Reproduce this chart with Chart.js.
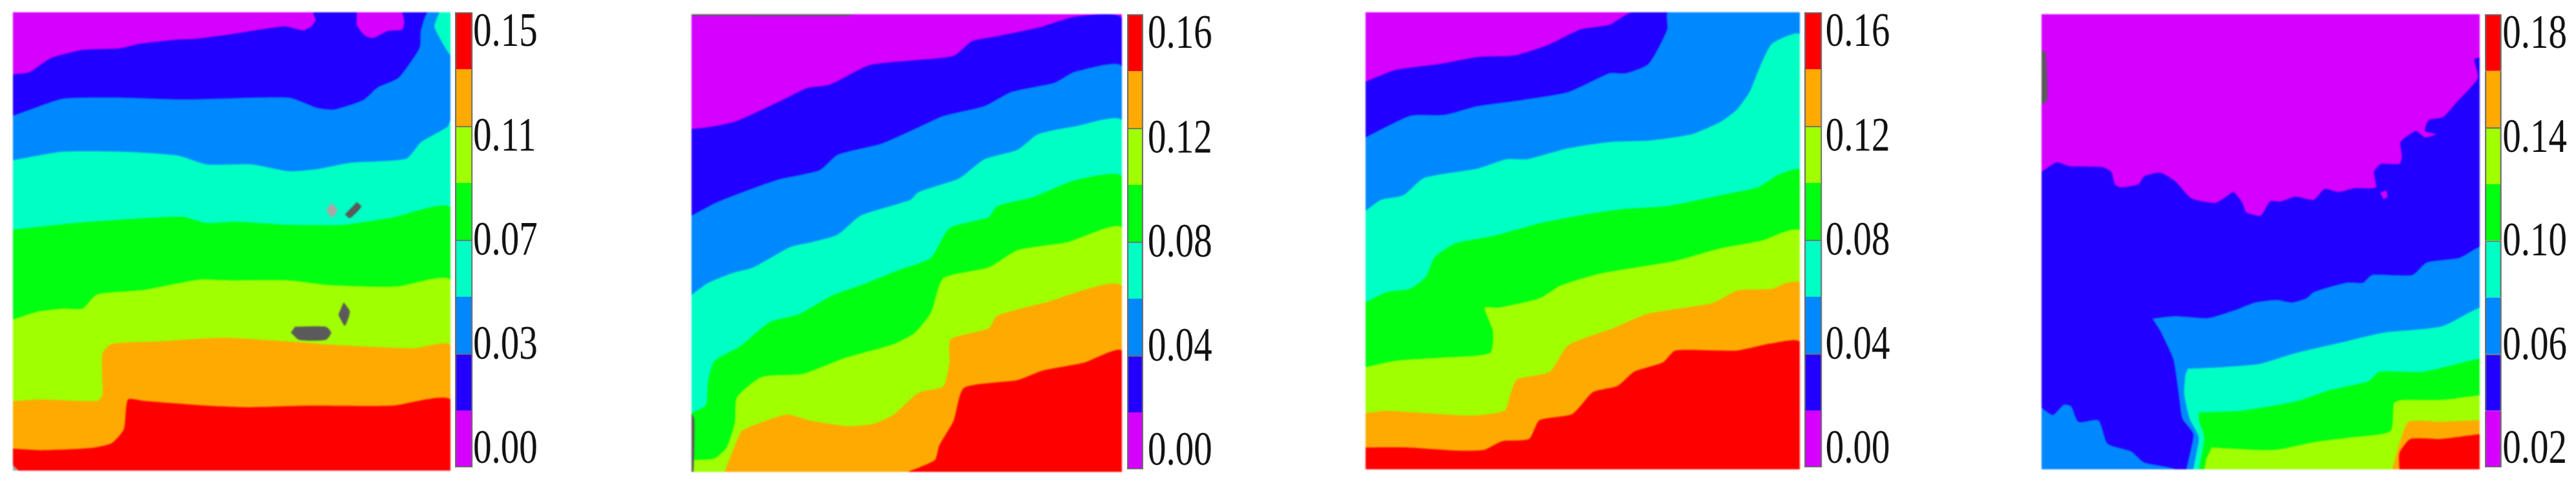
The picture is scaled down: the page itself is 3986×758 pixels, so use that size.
<!DOCTYPE html>
<html>
<head>
<meta charset="utf-8">
<script src="https://cdn.jsdelivr.net/npm/chart.js@4"></script>
<style>
html, body { margin: 0; padding: 0; background: #fff; width: 3986px; height: 758px; overflow: hidden; }
canvas { position: absolute; display: block; }
.map { filter: blur(1px); }
.bar { transform-origin: 0 0; filter: blur(0.6px); }
</style>
</head>
<body>
<script>
const bandColors = ['#D500FF', '#2200FF', '#0088FF', '#00FFC4', '#00FF11', '#A0FF00', '#FFAA00', '#FF0000']
const grayDark = '#5a5a5a'
const grayLight = '#a8a8a8'

// colorbar tick labels, bottom to top
const ticks1 = ['0.00', '0.03', '0.07', '0.11', '0.15']
const ticks2 = ['0.00', '0.04', '0.08', '0.12', '0.16']
const ticks3 = ['0.00', '0.04', '0.08', '0.12', '0.16']
const ticks4 = ['0.02', '0.06', '0.10', '0.14', '0.18']
// where the labels sit along the bar, in bands from the bottom
const tickBands = [0.3, 2.13, 3.96, 5.79, 7.63]

// contour lines, [x, y] on each panel's own sample grid
const p1Contours = [
  [[31,238],[70,232],[95,210],[125,185],[200,160],[290,155],[340,140],[430,127],[470,125],[560,110],[690,85],[735,98],[755,85],[765,65],[760,40],[1092,40]],
  [[31,370],[90,342],[155,315],[290,312],[450,318],[700,312],[770,345],[810,350],[880,320],[915,280],[965,250],[1000,190],[1018,150],[1020,100],[1037,40],[1092,40]],
  [[31,512],[150,485],[300,485],[430,497],[500,525],[610,525],[700,547],[770,540],[850,520],[985,507],[1020,455],[1085,405],[1092,385]],
  [[31,733],[200,710],[440,692],[500,712],[570,708],[700,718],[830,718],[950,695],[1092,665]],
  [[31,1020],[90,995],[155,985],[200,985],[235,940],[350,925],[480,893],[560,895],[700,895],[800,910],[960,915],[1092,895]],
  [[31,1280],[100,1275],[235,1280],[248,1260],[248,1130],[270,1098],[380,1090],[540,1078],[700,1090],[800,1100],[1000,1112],[1092,1102]],
  [[31,1432],[100,1437],[220,1430],[270,1415],[300,1370],[310,1275],[350,1280],[500,1295],[600,1300],[750,1295],[950,1295],[1092,1275]]
]
const p1PurpleIsland = [[865,40],[865,80],[885,115],[905,122],[940,100],[975,95],[980,70],[975,40]]
const p1CyanIsland = [[1065,40],[1053,85],[1065,120],[1092,175],[1092,40]]
const p1Specks = [
  [grayLight, [[803,648],[818,670],[806,695],[790,672]]],
  [grayDark, [[865,645],[876,660],[848,697],[836,685]]],
  [grayDark, [[833,965],[848,995],[836,1040],[820,1005]]],
  [grayDark, [[715,1043],[790,1043],[803,1062],[790,1085],[725,1085],[705,1062]]],
  [grayLight, [[31,1485],[44,1502],[31,1502]]]
]

const p2Contours = [
  [[110,413],[150,408],[220,388],[340,315],[390,283],[445,272],[540,210],[640,195],[745,180],[790,133],[860,115],[950,90],[1040,55],[1153,62]],
  [[110,690],[170,648],[240,612],[320,575],[420,545],[465,495],[570,460],[640,420],[720,372],[820,340],[885,295],[990,265],[1040,230],[1153,215]],
  [[110,943],[150,905],[210,873],[260,855],[350,790],[400,775],[465,750],[520,690],[640,640],[660,615],[760,570],[820,510],[900,480],[950,430],[1040,405],[1153,388]],
  [[110,1320],[145,1295],[150,1220],[165,1155],[230,1105],[300,1030],[370,1005],[450,945],[520,912],[620,860],[690,825],[735,730],[830,695],[850,660],[940,630],[1040,577],[1153,567]],
  [[110,1470],[165,1465],[195,1430],[215,1350],[220,1270],[280,1205],[380,1195],[480,1145],[600,1100],[650,1065],[690,1000],[720,890],[830,855],[900,800],[1020,775],[1153,730]],
  [[190,1508],[230,1380],[250,1365],[340,1325],[400,1345],[490,1362],[550,1355],[600,1325],[660,1255],[720,1235],[735,1160],[738,1085],[830,1050],[850,1010],[960,970],[1153,915]],
  [[635,1508],[700,1470],[710,1425],[745,1345],[770,1240],[900,1215],[960,1185],[1060,1160],[1153,1122]]
]
const p2Edges = [
  [grayDark, [[110,47],[500,47],[495,52],[110,52]]],
  [grayDark, [[110,1320],[117,1340],[115,1508],[110,1508]]]
]

const p3Contours = [
  [[98,262],[170,225],[280,205],[370,183],[460,178],[540,145],[620,95],[690,80],[745,40],[1152,40]],
  [[98,440],[150,405],[210,370],[290,368],[370,340],[480,320],[590,295],[690,235],[730,235],[785,205],[830,95],[832,40],[1152,40]],
  [[98,675],[135,640],[190,625],[240,570],[370,540],[440,510],[490,510],[590,475],[690,455],[790,450],[890,430],[960,390],[1000,350],[1030,295],[1055,215],[1085,140],[1152,112]],
  [[98,968],[150,935],[205,925],[245,885],[265,825],[315,780],[410,755],[520,715],[640,685],[720,670],[830,660],[980,620],[1050,600],[1100,560],[1152,545]],
  [[98,1175],[170,1155],[280,1145],[400,1130],[407,1060],[387,985],[420,985],[520,955],[570,915],[670,875],[850,835],[960,795],[1060,770],[1120,740],[1152,738]],
  [[98,1322],[150,1315],[350,1330],[435,1315],[450,1260],[465,1215],[545,1190],[590,1105],[700,1050],[780,1005],[940,970],[1000,930],[1085,925],[1120,905],[1152,905]],
  [[98,1432],[200,1432],[320,1442],[385,1440],[430,1412],[495,1405],[520,1345],[600,1325],[650,1255],[710,1235],[750,1190],[820,1160],[850,1122],[1000,1122],[1080,1100],[1152,1095]]
]

// panel 4 is not banded edge to edge, so these are closed outlines
const p4Indigo = [[104,550],[145,520],[180,532],[270,535],[295,550],[305,590],[320,600],[370,590],[385,565],[430,553],[470,580],[515,635],[580,650],[610,630],[630,615],[655,650],[665,680],[705,690],[730,645],[760,645],[800,630],[850,640],[880,605],[920,615],[960,603],[1020,600],[1015,550],[1035,525],[1085,525],[1092,500],[1088,455],[1130,420],[1155,440],[1185,430],[1155,420],[1165,385],[1205,375],[1240,330],[1300,250],[1290,190],[1305,185],[1360,185],[1360,1560],[50,1560],[50,550]]
const p4PurpleIsland = [[1032,618],[1048,610],[1052,630],[1042,638]]
const p4BlueRight = [[408,1020],[470,1012],[560,1018],[640,990],[690,968],[750,960],[790,968],[830,955],[850,935],[940,905],[985,905],[1010,880],[1120,880],[1160,840],[1250,825],[1305,790],[1360,790],[1360,1560],[505,1560],[520,1390],[490,1340],[480,1260],[465,1150],[430,1060]]
const p4BlueLeft = [[104,1305],[135,1328],[165,1295],[185,1300],[205,1350],[260,1345],[285,1420],[350,1445],[385,1480],[470,1502],[520,1560],[50,1560],[50,1305]]
const p4Cyan = [[505,1180],[600,1175],[700,1165],[800,1130],[930,1095],[1040,1065],[1200,1045],[1305,985],[1360,985],[1360,1560],[525,1560],[535,1400],[510,1340],[495,1260],[498,1200]]
const p4Green = [[535,1320],[650,1315],[800,1285],[890,1250],[1000,1220],[1030,1190],[1150,1190],[1305,1148],[1360,1148],[1360,1560],[542,1560],[550,1400],[535,1345]]
const p4YellowGreen = [[570,1432],[740,1440],[850,1415],[950,1400],[1060,1380],[1070,1290],[1090,1280],[1200,1280],[1305,1265],[1360,1265],[1360,1560],[550,1560],[555,1470]]
const p4Orange = [[1065,1502],[1085,1420],[1110,1350],[1200,1350],[1305,1345],[1360,1345],[1360,1560],[1060,1560]]
const p4Red = [[1085,1502],[1085,1450],[1115,1405],[1200,1405],[1305,1390],[1360,1390],[1360,1560],[1085,1560]]
const p4Strip = [[104,160],[115,170],[120,320],[104,335]]

function bandsToLayers(contours, xr, yr) {
  // painter's order: each contour fills everything below it, corners pushed off the plot
  const m = 60
  let layers = [[bandColors[0], [[xr[0]-m,yr[0]-m],[xr[1]+m,yr[0]-m],[xr[1]+m,yr[1]+m],[xr[0]-m,yr[1]+m]]]]
  contours.forEach((line, i) => {
    layers.push([bandColors[i+1], line.concat([[xr[1]+m,yr[1]+m],[xr[0]-m,yr[1]+m]])])
  })
  return layers
}

function drawMap(pos, xr, yr, layers) {
  let canvas = document.createElement('canvas')
  canvas.className = 'map'
  canvas.style.left = pos.left + 'px'
  canvas.style.top = pos.top + 'px'
  document.body.appendChild(canvas)
  canvas.width = pos.width
  canvas.height = pos.height
  canvas.style.width = pos.width + 'px'
  canvas.style.height = pos.height + 'px'
  // first dataset is painted last, so hand them over reversed
  let datasets = layers.slice().reverse().map(([color, pts]) => ({
    data: pts.map(p => ({ x: p[0], y: p[1] })),
    showLine: true,
    tension: 0.2,
    capBezierPoints: false,
    pointRadius: 0,
    borderWidth: 0,
    backgroundColor: color,
    fill: 'shape'
  }))
  new Chart(canvas, {
    type: 'scatter',
    data: { datasets },
    options: {
      responsive: false,
      animation: false,
      layout: { padding: 0 },
      plugins: { legend: { display: false }, tooltip: { enabled: false } },
      scales: {
        x: { type: 'linear', display: false, min: xr[0], max: xr[1] },
        y: { type: 'linear', display: false, reverse: true, min: yr[0], max: yr[1] }
      }
    }
  })
}

function drawBar(pos, tickLabels) {
  const squeeze = 0.78 // the labels in the picture are narrower than they are tall
  const barWidth = pos.barWidth / squeeze
  const axisWidth = 150
  let canvas = document.createElement('canvas')
  canvas.className = 'bar'
  canvas.style.left = pos.left + 'px'
  canvas.style.top = '0px'
  canvas.style.transform = 'scaleX(' + squeeze + ')'
  document.body.appendChild(canvas)
  const w = Math.round(barWidth + axisWidth)
  canvas.width = w
  canvas.height = 758
  canvas.style.width = w + 'px'
  canvas.style.height = '758px'
  let datasets = bandColors.map((color, i) => ({
    data: [1],
    backgroundColor: color,
    borderColor: '#6e6e6e',
    borderWidth: { left: 3, right: 3, top: i % 2 === 1 ? 2 : 0, bottom: i === 0 ? 2 : 0 },
    borderSkipped: false,
    barPercentage: 1,
    categoryPercentage: 1
  }))
  new Chart(canvas, {
    type: 'bar',
    data: { labels: [''], datasets },
    options: {
      responsive: false,
      animation: false,
      layout: { padding: { top: pos.top, bottom: 758 - pos.top - pos.height, left: 0, right: 0 } },
      plugins: { legend: { display: false }, tooltip: { enabled: false } },
      scales: {
        x: { stacked: true, display: false },
        y: {
          stacked: true,
          position: 'right',
          min: 0,
          max: 8,
          grid: { display: false, drawTicks: false },
          border: { display: false },
          afterBuildTicks: sc => { sc.ticks = tickBands.map(v => ({ value: v })) },
          afterFit: sc => {
            sc.width = axisWidth
            sc.paddingTop = 0
            sc.paddingBottom = 0
          },
          ticks: {
            autoSkip: false,
            padding: pos.labelGap,
            color: '#111',
            font: { family: '"Liberation Serif"', size: 73 },
            callback: (v, i) => tickLabels[i]
          }
        }
      }
    }
  })
}

let p1Layers = bandsToLayers(p1Contours, [31,1092], [40,1502])
p1Layers.splice(2, 0, [bandColors[0], p1PurpleIsland])
p1Layers.push([bandColors[3], p1CyanIsland])
p1Layers = p1Layers.concat(p1Specks)
drawMap({ left: 20, top: 19, width: 677, height: 709 }, [31,1092], [40,1502], p1Layers)
drawBar({ left: 704, top: 19, height: 704, barWidth: 27, labelGap: 1 }, ticks1)

drawMap({ left: 1070, top: 22, width: 666, height: 708 }, [110,1153], [47,1508], bandsToLayers(p2Contours, [110,1153], [47,1508]).concat(p2Edges))
drawBar({ left: 1744, top: 22, height: 704, barWidth: 25, labelGap: 9 }, ticks2)

drawMap({ left: 2113, top: 19, width: 672, height: 707 }, [98,1152], [40,1502], bandsToLayers(p3Contours, [98,1152], [40,1502]))
drawBar({ left: 2792, top: 19, height: 704, barWidth: 27, labelGap: 7 }, ticks3)

let p4Layers = [
  [bandColors[0], [[50,-10],[1360,-10],[1360,1560],[50,1560]]],
  [bandColors[1], p4Indigo],
  [bandColors[0], p4PurpleIsland],
  [bandColors[2], p4BlueRight],
  [bandColors[2], p4BlueLeft],
  [bandColors[3], p4Cyan],
  [bandColors[4], p4Green],
  [bandColors[5], p4YellowGreen],
  [bandColors[6], p4Orange],
  [bandColors[7], p4Red],
  [grayDark, p4Strip]
]
drawMap({ left: 3159, top: 22, width: 678, height: 704 }, [104,1305], [46,1502], p4Layers)
drawBar({ left: 3845, top: 22, height: 701, barWidth: 26, labelGap: 2 }, ticks4)
</script>
</body>
</html>
